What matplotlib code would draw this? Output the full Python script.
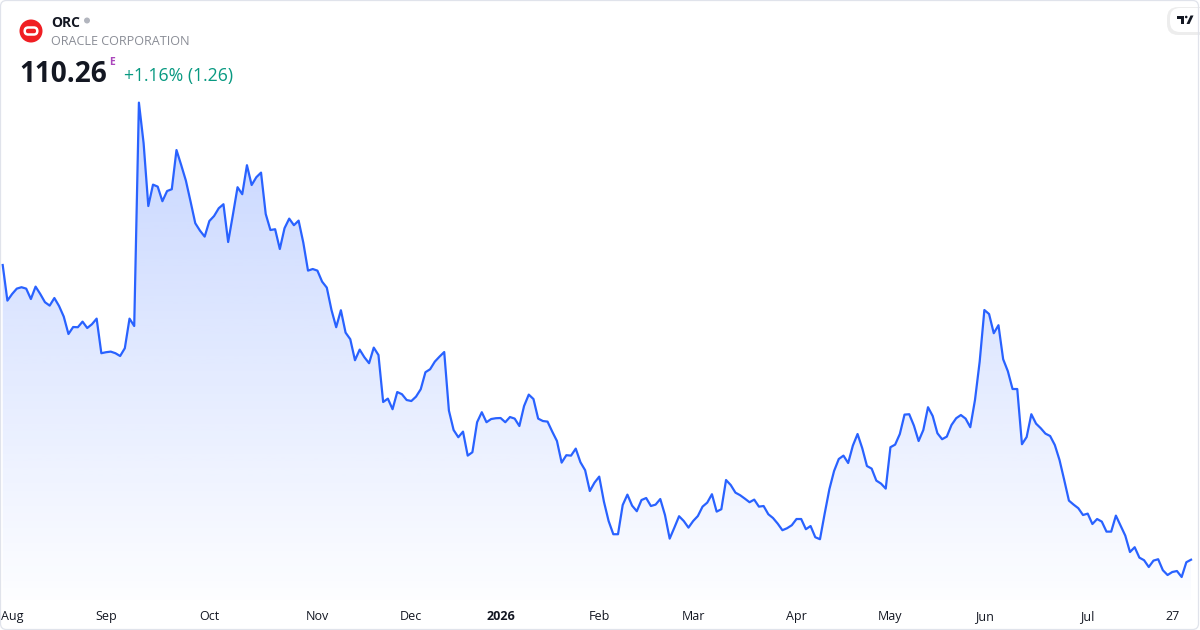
import numpy as np
import matplotlib
matplotlib.use('Agg')
import matplotlib.pyplot as plt
from matplotlib.patches import Polygon, Circle, FancyBboxPatch
from matplotlib.transforms import IdentityTransform
from matplotlib.colors import to_rgb

# daily closes, one per trading day
price = [
    257.6, 239.8, 243.1, 245.8, 246.5, 245.8, 240.6, 246.8, 243.1, 239.0,
    237.3, 241.1, 237.1, 231.8, 223.1, 226.6, 226.5, 229.3, 226.1, 228.0,
    230.8, 213.5, 214.0, 214.3, 213.5, 212.1, 216.0, 230.8, 227.1, 338.8,
    318.5, 287.1, 297.8, 296.8, 289.5, 294.6, 295.5, 315.1, 307.6, 299.8,
    289.3, 278.5, 274.8, 271.8, 279.6, 282.1, 286.0, 288.0, 269.1, 282.6,
    296.5, 293.0, 307.5, 297.6, 301.5, 303.8, 283.1, 275.1, 275.5, 265.6,
    276.0, 280.8, 277.5, 279.8,
    268.8, 254.8, 255.6, 254.8, 249.3, 246.3, 235.1, 226.5, 235.0, 223.8,
    220.5, 210.0, 215.3, 211.5, 208.5, 216.3, 212.6, 189.1, 190.8, 185.5,
    194.1, 193.0, 190.1, 189.6, 191.8, 195.5, 204.0, 205.5, 209.3, 211.8,
    214.1, 184.8, 175.1, 171.5, 174.3, 162.3, 164.0, 179.0, 184.0, 179.0,
    180.6, 181.0, 181.1, 179.0, 181.6, 180.8, 177.1, 187.1, 192.8, 190.6,
    180.8, 179.6, 179.3, 174.3, 169.6, 158.8, 162.5, 162.3, 165.8, 159.0,
    155.0, 144.6, 148.8, 151.8,
    139.3, 129.6, 123.0, 123.0, 137.6, 142.8, 137.3, 134.5, 140.1, 141.1,
    137.1, 137.8, 140.6, 132.6, 120.8, 126.3, 132.0, 129.6, 126.3, 129.6,
    132.1, 136.8, 138.8, 143.0, 134.3, 135.5, 150.1, 147.6, 143.8, 142.5,
    140.8, 139.0, 140.3, 136.8, 137.1, 133.0, 131.1, 128.3, 125.0, 126.0,
    127.5, 130.6, 130.6, 125.5, 127.1, 121.5, 120.5, 133.3, 145.5, 154.6,
    160.6, 162.3, 158.6, 167.3, 173.1, 166.0, 157.1, 155.8, 149.8, 148.3,
    145.8, 166.5, 167.8,
    173.1, 182.8, 183.0, 177.3, 169.6, 175.1, 186.5, 182.1, 173.5, 170.5,
    171.8, 177.6, 181.0, 182.6, 180.8, 176.5, 190.1, 209.3, 235.1, 233.1,
    223.5, 227.5, 210.5, 204.5, 195.6, 195.6, 168.0, 171.6, 183.0, 178.3,
    176.0, 173.3, 172.1, 167.6, 160.1, 150.1, 139.8, 137.8, 136.0, 132.6,
    133.3, 128.1, 130.6, 129.3, 124.3, 124.3, 132.3, 127.3, 122.3, 114.1,
    116.5, 111.3, 110.0, 106.6, 109.8, 110.5, 105.0, 102.6, 104.1, 104.6,
    101.6, 109.00, 110.26,
]

month_labels = ['Aug', 'Sep', 'Oct', 'Nov', 'Dec', '2026', 'Feb', 'Mar',
                'Apr', 'May', 'Jun', 'Jul', '27']
month_idx = [2, 22, 44, 67, 87, 106, 127, 147, 169, 189, 209, 231, 249]

ticker = 'ORC'
company = 'ORACLE CORPORATION'
last_price = '110.26'
change_txt = '+1.16% (1.26)'

W, H = 1200, 630
line_col = '#2962FF'
dark = '#131722'

plt.rcParams['font.family'] = ['Open Sans', 'DejaVu Sans']

fig = plt.figure(figsize=(W / 100, H / 100), dpi=100)
fig.patch.set_facecolor('white')

ax = fig.add_axes([0, 30 / H, 1, 600 / H])
ax.set_facecolor('none')
for s in ax.spines.values():
    s.set_visible(False)

x = np.arange(len(price))
step = 4.697
xlo, xhi = -2.7 / step, (W - 2.7) / step
ylo, yhi = 90.11, 390.11

# gradient area under the line
verts = [(x[0], ylo)] + list(zip(x, price)) + [(x[-1], ylo)]
poly = Polygon(verts, closed=True, facecolor='none', edgecolor='none')
ax.add_patch(poly)
grad = np.zeros((256, 1, 4))
grad[..., :3] = to_rgb(line_col)
grad[:, 0, 3] = np.linspace(0.01, 0.27, 256)
im = ax.imshow(grad, extent=[xlo, xhi, ylo, max(price)], origin='lower',
               aspect='auto', zorder=1, interpolation='bilinear')
im.set_clip_path(poly)

ax.plot(x, price, color=line_col, lw=1.6, zorder=3, solid_joinstyle='round')

ax.set_xlim(xlo, xhi)
ax.set_ylim(ylo, yhi)
ax.set_yticks([])
ax.set_xticks(month_idx)
ax.set_xticklabels(month_labels, fontsize=9, color=dark)
ax.tick_params(axis='x', length=0, pad=7)
for lab in ax.get_xticklabels():
    if lab.get_text() == '2026':
        lab.set_fontweight('bold')

# header
def fx(px):
    return px / W

def fy(py):
    return 1 - py / H

fig.add_artist(Circle((31, H - 31), 11.5, transform=IdentityTransform(),
                      facecolor='#f01e23', edgecolor='none'))
fig.add_artist(FancyBboxPatch((31 - 6.3, H - 31 - 3.5), 12.6, 7,
                              boxstyle='round,pad=0,rounding_size=3.5',
                              transform=IdentityTransform(),
                              facecolor='none', edgecolor='white', lw=1.8))
fig.text(fx(51), fy(26.7), ticker, fontsize=10, fontweight='bold',
         color=dark, va='baseline')
fig.add_artist(Circle((87, H - 20.5), 3, transform=IdentityTransform(),
                      facecolor='#b2b5be', edgecolor='none'))
fig.text(fx(51), fy(45), company, fontsize=9.1, color='#8a8d96', va='baseline')
fig.text(fx(19), fy(81.7), last_price, fontsize=20.2, fontweight='bold',
         color=dark, va='baseline')
fig.text(fx(109), fy(65), 'E', fontsize=7.5, fontweight='bold',
         color='#ab47bc', va='baseline')
fig.text(fx(124), fy(80.5), change_txt, fontsize=12.7, color='#089981',
         va='baseline')

# tradingview badge
fig.add_artist(FancyBboxPatch((1167, H - 35), 52, 28,
                              boxstyle='round,pad=0,rounding_size=11',
                              transform=IdentityTransform(),
                              facecolor='#000000', alpha=0.07, edgecolor='none'))
fig.add_artist(FancyBboxPatch((1170, H - 32), 48, 24,
                              boxstyle='round,pad=0,rounding_size=10',
                              transform=IdentityTransform(),
                              facecolor='white', edgecolor='none'))
logo_parts = [
    [(1177, 15.5), (1184, 15.5), (1184, 18.5), (1177, 18.5)],
    [(1181, 15.5), (1184, 15.5), (1184, 24), (1181, 24)],
    [(1186.5, 24), (1189.5, 24), (1193.5, 15.5), (1190.5, 15.5)],
]
for part in logo_parts:
    fig.add_artist(Polygon([(px, H - py) for px, py in part],
                           transform=IdentityTransform(),
                           facecolor=dark, edgecolor='none'))
fig.add_artist(Circle((1186.2, H - 17), 1.3, transform=IdentityTransform(),
                      facecolor=dark, edgecolor='none'))

# outer frame
fig.add_artist(FancyBboxPatch((0.5, 0.5), 1198, H - 1,
                              boxstyle='round,pad=0,rounding_size=6',
                              transform=IdentityTransform(),
                              facecolor='none', edgecolor='#e0e3eb', lw=0.9))

fig.savefig('out.png', dpi=100, facecolor='white')
